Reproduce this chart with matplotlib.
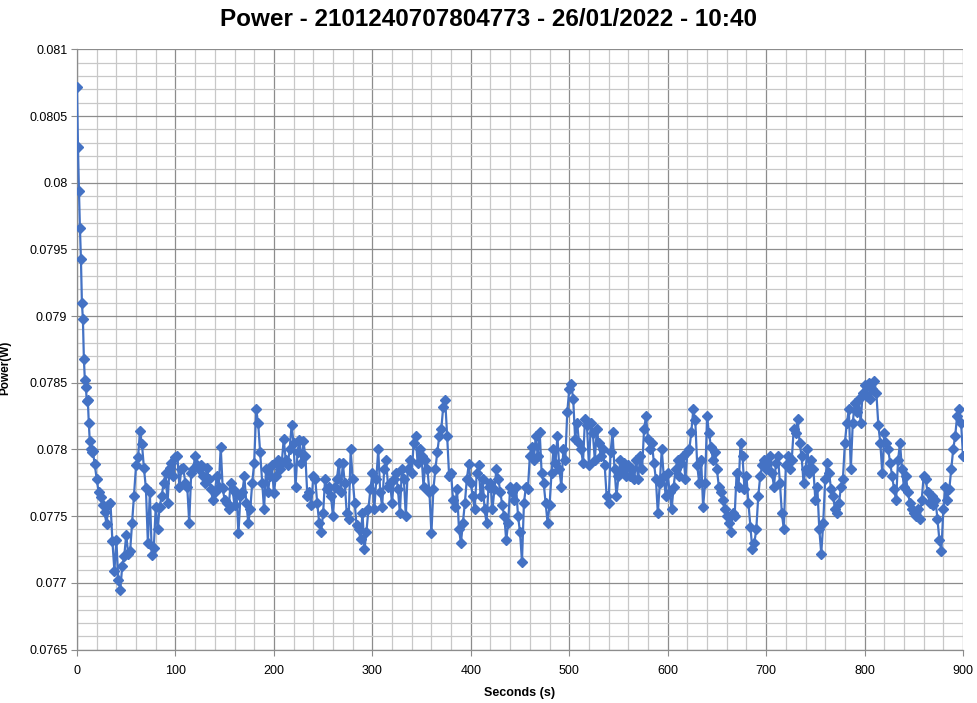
import numpy as np
import matplotlib
matplotlib.use("Agg")
import matplotlib.pyplot as plt
from matplotlib.ticker import MultipleLocator, FuncFormatter

plt.rcParams["font.family"] = ["Liberation Sans", "DejaVu Sans"]

TITLE = "Power - 2101240707804773 - 26/01/2022 - 10:40"

# first 16 s, sampled every second (start-up drop), in mW
power_start_mw = [
    80.72, 80.27, 79.94, 79.66, 79.43, 79.10, 78.98, 78.68,
    78.52, 78.47, 78.36, 78.37, 78.20, 78.06, 78.00, 77.98,
]

# from 16 s to 900 s, every 2 s, in mW
power_rest_mw = [
    # 16 - 190
    77.99, 77.89, 77.78, 77.68, 77.64, 77.58, 77.53, 77.44, 77.58, 77.60,
    77.31, 77.09, 77.32, 77.02, 76.95, 77.13, 77.20, 77.36, 77.22, 77.24,
    77.45, 77.65, 77.88, 77.94, 78.14, 78.04, 77.86, 77.71, 77.30, 77.68,
    77.21, 77.26, 77.57, 77.40, 77.57, 77.65, 77.75, 77.82, 77.60, 77.86,
    77.90, 77.80, 77.94, 77.95, 77.72, 77.85, 77.86, 77.75, 77.72, 77.45,
    77.82, 77.85, 77.95, 77.88, 77.85, 77.88, 77.80, 77.75, 77.86, 77.78,
    77.70, 77.62, 77.68, 77.80, 77.72, 78.02, 77.71, 77.62, 77.60, 77.55,
    77.75, 77.70, 77.58, 77.67, 77.37, 77.65, 77.68, 77.80, 77.60, 77.45,
    77.55, 77.75, 77.90, 78.30, 78.20, 77.98, 77.75, 77.55,
    # 192 - 374
    77.85, 77.68, 77.80, 77.88, 77.67, 77.80, 77.92, 77.85, 77.90, 78.08,
    77.92, 77.88, 78.00, 78.18, 78.05, 77.72, 77.98, 78.07, 77.90, 78.06,
    77.95, 77.65, 77.68, 77.58, 77.80, 77.78, 77.60, 77.45, 77.38, 77.52,
    77.78, 77.70, 77.72, 77.65, 77.50, 77.72, 77.78, 77.90, 77.68, 77.90,
    77.75, 77.52, 77.48, 78.00, 77.78, 77.60, 77.43, 77.40, 77.33, 77.52,
    77.25, 77.38, 77.55, 77.70, 77.82, 77.55, 77.78, 78.00, 77.68, 77.57,
    77.85, 77.92, 77.72, 77.75, 77.60, 77.78, 77.82, 77.70, 77.52, 77.85,
    77.78, 77.50, 77.85, 77.92, 77.82, 78.05, 78.10, 77.90, 78.00, 77.95,
    77.72, 77.92, 77.85, 77.68, 77.37, 77.70, 77.85, 77.98, 78.10, 78.15,
    78.32, 78.37,
    # 376 - 560
    78.10, 77.80, 77.82, 77.62, 77.57, 77.70, 77.40, 77.30, 77.45, 77.60,
    77.78, 77.89, 77.75, 77.65, 77.55, 77.82, 77.88, 77.65, 77.78, 77.55,
    77.45, 77.72, 77.75, 77.55, 77.70, 77.85, 77.78, 77.68, 77.58, 77.50,
    77.32, 77.45, 77.72, 77.68, 77.62, 77.72, 77.50, 77.38, 77.16, 77.60,
    77.72, 77.70, 77.95, 78.02, 77.92, 78.10, 77.95, 78.13, 77.82, 77.75,
    77.60, 77.45, 77.58, 77.82, 78.00, 77.90, 78.10, 77.85, 77.72, 78.00,
    77.92, 78.28, 78.45, 78.49, 78.38, 78.08, 78.20, 78.05, 78.00, 77.90,
    78.23, 78.18, 77.88, 78.20, 78.12, 77.92, 78.15, 78.05, 77.95, 78.00,
    77.88, 77.65, 77.60, 77.98, 78.13, 77.85, 77.65, 77.80, 77.92, 77.85,
    77.90, 77.80, 77.88,
    # 562 - 740
    77.80, 77.85, 77.78, 77.92, 77.78, 77.95, 77.85, 78.15, 78.25, 78.08,
    78.00, 78.05, 77.90, 77.78, 77.52, 77.75, 78.00, 77.80, 77.65, 77.82,
    77.68, 77.55, 77.72, 77.85, 77.92, 77.80, 77.90, 77.95, 77.78, 77.98,
    78.00, 78.13, 78.30, 78.22, 77.88, 77.75, 77.92, 77.57, 77.75, 78.25,
    78.12, 78.02, 77.92, 77.98, 77.85, 77.72, 77.68, 77.62, 77.55, 77.50,
    77.45, 77.38, 77.52, 77.50, 77.82, 77.72, 78.05, 77.95, 77.70, 77.80,
    77.60, 77.42, 77.25, 77.30, 77.40, 77.65, 77.80, 77.88, 77.92, 77.85,
    77.90, 77.95, 77.82, 77.72, 77.90, 77.95, 77.75, 77.52, 77.40, 77.88,
    77.95, 77.85, 77.92, 78.15, 78.12, 78.23, 78.05, 77.95, 77.75, 77.85,
    # 742 - 900
    78.00, 77.82, 77.92, 77.85, 77.62, 77.72, 77.40, 77.22, 77.45, 77.78,
    77.90, 77.82, 77.70, 77.65, 77.55, 77.52, 77.60, 77.72, 77.78, 78.05,
    78.20, 78.30, 77.85, 78.20, 78.35, 78.28, 78.38, 78.20, 78.42, 78.48,
    78.40, 78.50, 78.38, 78.45, 78.51, 78.42, 78.18, 78.05, 77.82, 78.12,
    78.05, 78.00, 77.90, 77.80, 77.70, 77.62, 77.92, 78.05, 77.85, 77.72,
    77.80, 77.68, 77.60, 77.55, 77.52, 77.50, 77.55, 77.48, 77.62, 77.80,
    77.78, 77.68, 77.60, 77.65, 77.58, 77.62, 77.48, 77.32, 77.24, 77.55,
    77.72, 77.62, 77.70, 77.85, 78.00, 78.10, 78.25, 78.30, 78.20, 77.95,
]

seconds = np.concatenate([
    np.arange(len(power_start_mw)),
    len(power_start_mw) + 2 * np.arange(len(power_rest_mw)),
])
power_w = np.array(power_start_mw + power_rest_mw) / 1000.0

BLUE = "#4472C4"
MAJOR = "#8c8c8c"
MINOR = "#c8c8c8"

fig = plt.figure(figsize=(9.77, 7.03), dpi=100)
ax = fig.add_axes([0.0788, 0.0761, 0.9069, 0.8535])

ax.plot(seconds, power_w, color=BLUE, linewidth=1.6, marker="D",
        markersize=4.8, markerfacecolor=BLUE, markeredgecolor=BLUE, zorder=3)

ax.set_xlim(0, 900)
ax.set_ylim(0.0765, 0.081)
ax.xaxis.set_major_locator(MultipleLocator(100))
ax.xaxis.set_minor_locator(MultipleLocator(20))
ax.yaxis.set_major_locator(MultipleLocator(0.0005))
ax.yaxis.set_minor_locator(MultipleLocator(0.0001))
ax.yaxis.set_major_formatter(FuncFormatter(lambda v, _: f"{v:.4f}".rstrip("0").rstrip(".")))

ax.grid(which="major", color=MAJOR, linewidth=0.9)
ax.grid(which="minor", color=MINOR, linewidth=0.9)
ax.set_axisbelow(True)

for side in ("top", "right"):
    ax.spines[side].set_visible(False)
for side in ("left", "bottom"):
    ax.spines[side].set_color(MAJOR)
    ax.spines[side].set_linewidth(0.9)

ax.tick_params(which="major", direction="out", length=4, color=MAJOR,
               labelsize=9, labelcolor="#000000", pad=3)
ax.tick_params(axis="x", which="major", pad=7)
ax.tick_params(which="minor", length=0)

ax.set_xlabel("Seconds (s)", fontsize=9, fontweight="bold")
ax.xaxis.set_label_coords(0.5, -0.063)
ax.set_ylabel("Power(W)", fontsize=8.5, fontweight="bold")
ax.yaxis.set_label_coords(-0.074, 0.47)
fig.suptitle(TITLE, fontsize=17.5, fontweight="bold", y=0.988)

fig.savefig("out.png", dpi=100)
